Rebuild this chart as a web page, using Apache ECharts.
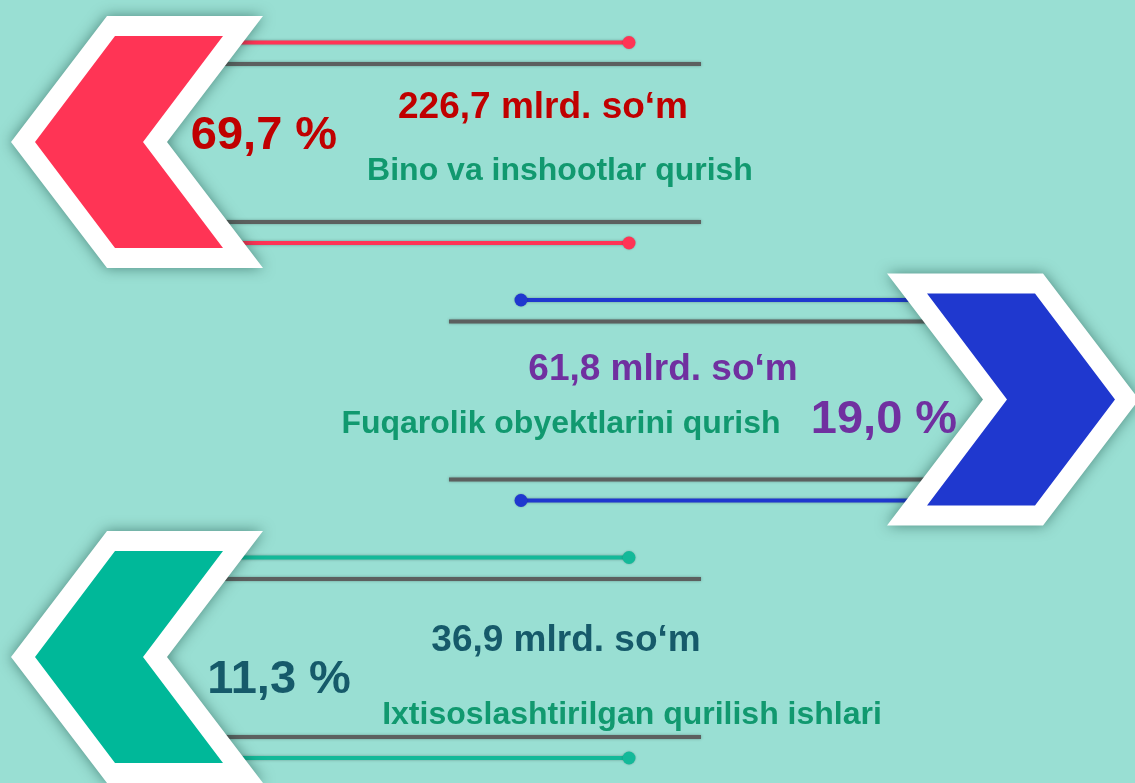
<!DOCTYPE html>
<html>
<head>
<meta charset="utf-8">
<title>Qurilish ishlari</title>
<script src="https://cdn.jsdelivr.net/npm/echarts@6/dist/echarts.min.js"></script>
<style>
    html, body { margin: 0; padding: 0; background: #99dfd3; }
    #chart { width: 1135px; height: 783px; }
</style>
</head>
<body>
<div id="chart"></div>
<script>
// ma'lumotlar
var categories = ['Bino va inshootlar qurish', 'Fuqarolik obyektlarini qurish', 'Ixtisoslashtirilgan qurilish ishlari'];
var amounts = [226.7, 61.8, 36.9];   // mlrd. so'm
var shares = [69.7, 19.0, 11.3];     // %

// har bir qator uchun ranglar
var chevronColors = ['#ff3455', '#1f38cf', '#00b899'];
var lineColors = ['#ff3455', '#1f38cf', '#14b999'];
var amountColors = ['#c00000', '#7030a0', '#165a6a'];
var shareColors = ['#c00000', '#7030a0', '#165a6a'];
var nameColor = '#11996f';

// matn joylari: uchidan [dx, dy]  (qiymat, nom, foiz)
var labelPos = [
    [[532, -34], [549, 29], [253, -6]],
    [[476, -30], [578, 25], [255, 21]],
    [[555, -16], [621, 58], [268, 23]]
];

var FONT = '"Liberation Sans", Arial, sans-serif';

function fmt(v) {
    return v.toFixed(1).replace('.', ',');
}

function renderItem(params, api) {
    var i = api.value(2);
    var cy = api.coord([0, i])[1];
    var cs = params.coordSys;
    var s = i === 1 ? -1 : 1;               // 1 - chapga qaragan, -1 - o'ngga
    var tx = s === 1 ? cs.x + 11 : cs.x + cs.width + 4;
    function P(dx, dy) { return [tx + s * dx, cy + dy]; }

    var outer = [P(0, 0), P(96, -126), P(252, -126), P(156, 0), P(252, 126), P(96, 126)];
    var inner = [P(24, 0), P(104, -106), P(212, -106), P(132, 0), P(212, 106), P(104, 106)];

    var children = [];
    // chiziqlar
    [-78, 80].forEach(function (dy) {
        var a = P(150, dy), b = P(690, dy);
        children.push({
            type: 'line',
            shape: { x1: a[0], y1: a[1], x2: b[0], y2: b[1] },
            style: { stroke: '#5c605f', lineWidth: 4, shadowBlur: 3, shadowColor: 'rgba(0,0,0,0.3)' }
        });
    });
    [-99.5, 101].forEach(function (dy) {
        var a = P(150, dy), b = P(618, dy);
        children.push({
            type: 'line',
            shape: { x1: a[0], y1: a[1], x2: b[0], y2: b[1] },
            style: { stroke: lineColors[i], lineWidth: 4, shadowBlur: 3, shadowColor: 'rgba(0,0,0,0.3)' }
        });
        children.push({
            type: 'circle',
            shape: { cx: b[0], cy: b[1], r: 6.5 },
            style: { fill: lineColors[i], shadowBlur: 2, shadowColor: 'rgba(0,0,0,0.25)' }
        });
    });
    // strelka
    children.push({
        type: 'polygon',
        shape: { points: outer },
        style: { fill: '#ffffff', shadowBlur: 14, shadowColor: 'rgba(0,50,40,0.5)' }
    });
    children.push({
        type: 'polygon',
        shape: { points: inner },
        style: { fill: chevronColors[i] }
    });
    // matnlar
    var lp = labelPos[i];
    var p0 = P(lp[0][0], lp[0][1]), p1 = P(lp[1][0], lp[1][1]), p2 = P(lp[2][0], lp[2][1]);
    children.push({
        type: 'text',
        style: {
            text: fmt(api.value(0)) + ' mlrd. so\u2018m', x: p0[0], y: p0[1],
            fill: amountColors[i], fontSize: 37, fontWeight: 'bold', fontFamily: FONT,
            align: 'center', verticalAlign: 'middle'
        }
    });
    children.push({
        type: 'text',
        style: {
            text: categories[i], x: p1[0], y: p1[1],
            fill: nameColor, fontSize: 32, fontWeight: 'bold', fontFamily: FONT,
            align: 'center', verticalAlign: 'middle'
        }
    });
    children.push({
        type: 'text',
        style: {
            text: fmt(api.value(1)) + ' %', x: p2[0], y: p2[1],
            fill: shareColors[i], fontSize: 47, fontWeight: 'bold', fontFamily: FONT,
            align: 'center', verticalAlign: 'middle'
        }
    });
    return { type: 'group', children: children };
}

var myChart = echarts.init(document.getElementById('chart'), null, { renderer: 'canvas' });
myChart.setOption({
    backgroundColor: '#99dfd3',
    animation: false,
    grid: { left: 0, right: 0, top: 142, bottom: 126 },
    xAxis: { type: 'value', min: 0, max: 300, show: false },
    yAxis: {
        type: 'category',
        inverse: true,
        boundaryGap: false,
        show: false,
        data: categories
    },
    series: [{
        type: 'custom',
        clip: false,
        renderItem: renderItem,
        encode: { x: 0, y: 2 },
        data: categories.map(function (c, i) { return [amounts[i], shares[i], i]; })
    }]
});
</script>
</body>
</html>
